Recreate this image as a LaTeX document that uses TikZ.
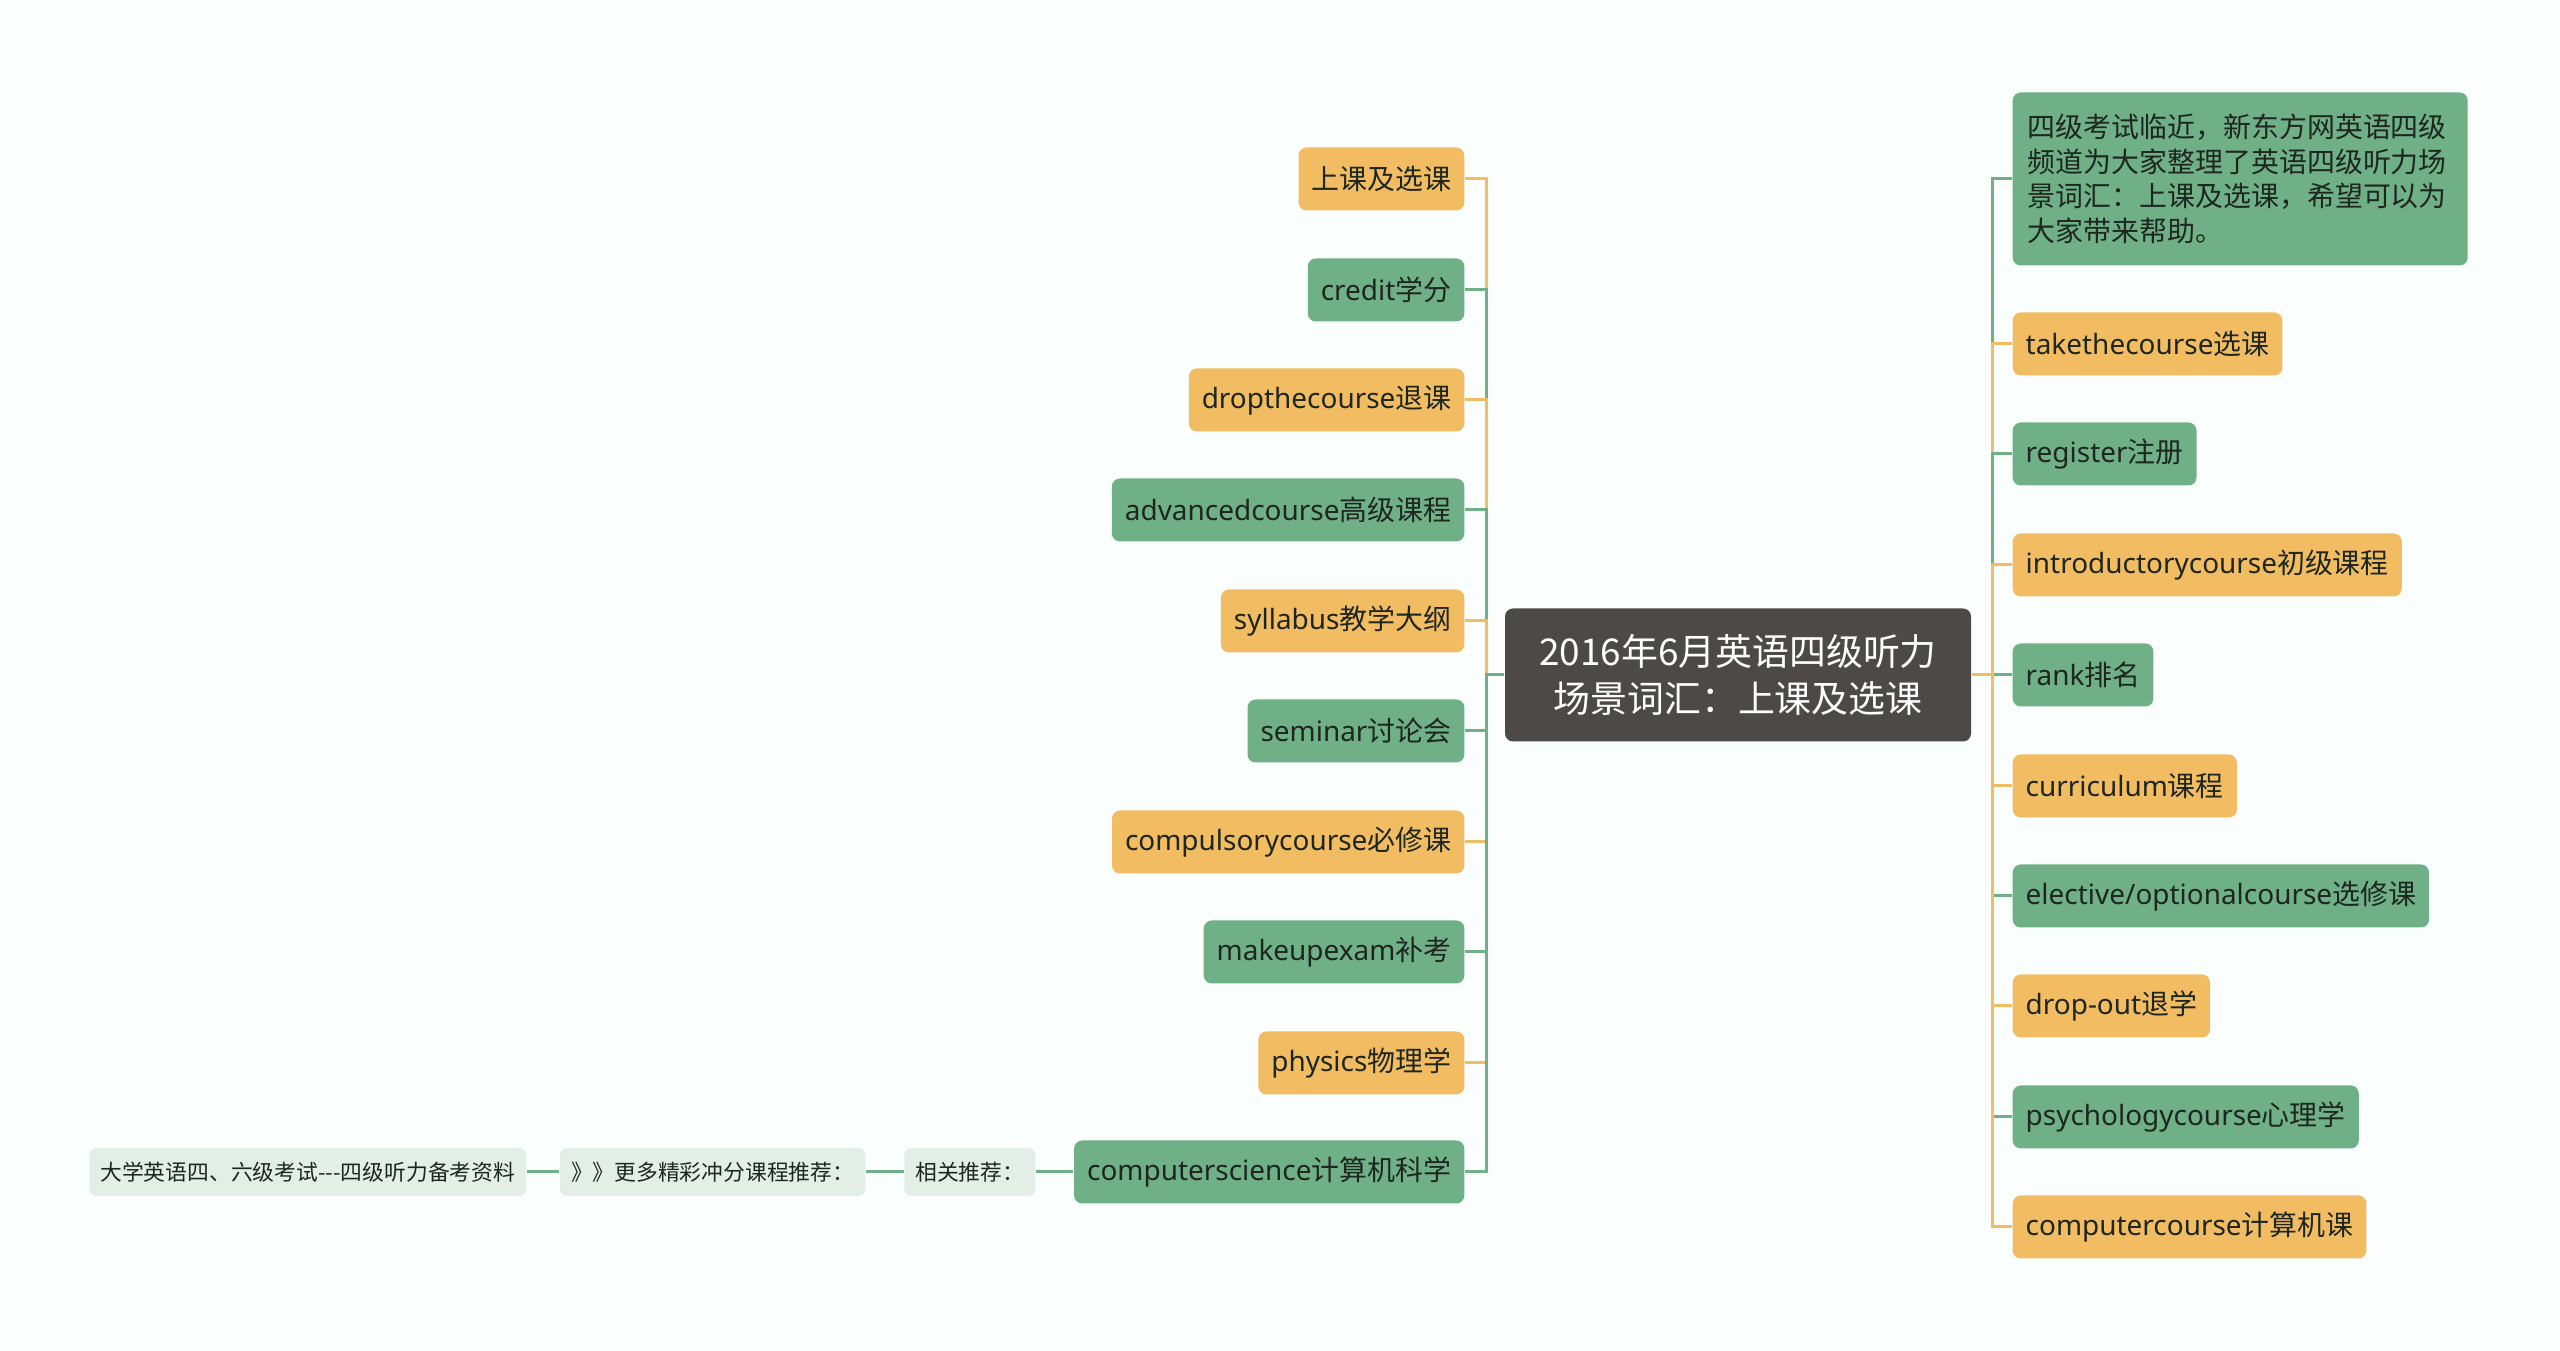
\documentclass[tikz,border=0pt]{standalone}
\usepackage{fontspec}
\setmainfont{Noto Sans}
\newfontfamily\cjk{Noto Sans CJK SC}
\definecolor{bgmint}{RGB}{250,254,253}
\definecolor{leafgreen}{RGB}{111,176,135}
\definecolor{leaforange}{RGB}{242,188,99}
\definecolor{rootgrey}{RGB}{77,73,72}
\definecolor{tagmint}{RGB}{227,238,231}
\definecolor{inkdark}{RGB}{30,38,32}
\usetikzlibrary{positioning, calc}

\tikzset{
  leaf/.style={rounded corners=0.8mm, minimum height=6.3mm, inner xsep=1.3mm, inner ysep=0pt, text=inkdark, font=\fontsize{7.95pt}{9.5pt}\selectfont},
  greenleaf/.style={leaf, fill=leafgreen},
  orangeleaf/.style={leaf, fill=leaforange},
  rootnode/.style={rounded corners=0.8mm, fill=rootgrey, text=white, minimum width=46.6mm, minimum height=13.3mm, align=center, font=\fontsize{10.5pt}{13.4pt}\selectfont\cjk},
  tagnode/.style={rounded corners=0.7mm, fill=tagmint, minimum height=4.8mm, inner xsep=1.1mm, inner ysep=0pt, text=inkdark, font=\fontsize{6.2pt}{7.4pt}\selectfont\cjk},
  greenedge/.style={draw=leafgreen, line width=0.3mm},
  orangeedge/.style={draw=leaforange, line width=0.3mm},
  elbow/.style={rounded corners=1.1mm}
}

\begin{document}
\begin{tikzpicture}[x=0.1mm, y=-0.1mm]
  % canvas
  \fill[bgmint] (0,0) rectangle (2560,1351);
  \useasboundingbox (0,0) rectangle (2560,1351);

  % Root
  \node[rootnode] (root) at (1738, 675) {2016年6月英语四级听力\\场景词汇：上课及选课};
  \coordinate (ltrunk) at (1486, 675);
  \coordinate (rtrunk) at (1992, 675);

  % Left branch
  \node[orangeleaf, anchor=east] (l1) at (1465, 179) {\cjk 上课及选课};
  \node[greenleaf, anchor=east] (l2) at (1465, 290) {credit\cjk 学分};
  \node[orangeleaf, anchor=east] (l3) at (1465, 400) {dropthecourse\cjk 退课};
  \node[greenleaf, anchor=east] (l4) at (1465, 510) {advancedcourse\cjk 高级课程};
  \node[orangeleaf, anchor=east] (l5) at (1465, 621) {syllabus\cjk 教学大纲};
  \node[greenleaf, anchor=east] (l6) at (1465, 731) {seminar\cjk 讨论会};
  \node[orangeleaf, anchor=east] (l7) at (1465, 842) {compulsorycourse\cjk 必修课};
  \node[greenleaf, anchor=east] (l8) at (1465, 952) {makeupexam\cjk 补考};
  \node[orangeleaf, anchor=east] (l9) at (1465, 1063) {physics\cjk 物理学};
  \node[greenleaf, anchor=east] (l10) at (1465, 1172) {computerscience\cjk 计算机科学};

  % Related chain
  \node[tagnode, anchor=east] (rel1) at (1036, 1172) {相关推荐：};
  \node[tagnode, anchor=east] (rel2) at (866, 1172) {》》更多精彩冲分课程推荐：};
  \node[tagnode, anchor=east] (rel3) at (527, 1172) {大学英语四、六级考试-\kern0pt-\kern0pt-四级听力备考资料};

  % Right branch
  \node[greenleaf, anchor=west, text width=42.5mm, inner xsep=1.5mm, minimum height=17.3mm, align=left, font=\fontsize{7.95pt}{9.8pt}\selectfont\cjk] (r1) at (2012, 179)
    {四级考试临近，新东方网英语四级\\频道为大家整理了英语四级听力场\\景词汇：上课及选课，希望可以为\\大家带来帮助。};
  \node[orangeleaf, anchor=west] (r2) at (2012, 344) {takethecourse\cjk 选课};
  \node[greenleaf, anchor=west] (r3) at (2012, 454) {register\cjk 注册};
  \node[orangeleaf, anchor=west] (r4) at (2012, 565) {introductorycourse\cjk 初级课程};
  \node[greenleaf, anchor=west] (r5) at (2012, 675) {rank\cjk 排名};
  \node[orangeleaf, anchor=west] (r6) at (2012, 786) {curriculum\cjk 课程};
  \node[greenleaf, anchor=west] (r7) at (2012, 896) {elective/optionalcourse\cjk 选修课};
  \node[orangeleaf, anchor=west] (r8) at (2012, 1006) {drop-out\cjk 退学};
  \node[greenleaf, anchor=west] (r9) at (2012, 1117) {psychologycourse\cjk 心理学};
  \node[orangeleaf, anchor=west] (r10) at (2012, 1227) {computercourse\cjk 计算机课};

  % Left connectors
  \draw[orangeedge] (root.west) -- (ltrunk) -- (ltrunk |- l1.east) [elbow] -- (l1.east);
  \draw[greenedge] (root.west) -- (ltrunk) -- (ltrunk |- l2.east) [elbow] -- (l2.east);
  \draw[orangeedge] (root.west) -- (ltrunk) -- (ltrunk |- l3.east) [elbow] -- (l3.east);
  \draw[greenedge] (root.west) -- (ltrunk) -- (ltrunk |- l4.east) [elbow] -- (l4.east);
  \draw[orangeedge] (root.west) -- (ltrunk) -- (ltrunk |- l5.east) [elbow] -- (l5.east);
  \draw[greenedge] (root.west) -- (ltrunk) -- (ltrunk |- l6.east) [elbow] -- (l6.east);
  \draw[orangeedge] (root.west) -- (ltrunk) -- (ltrunk |- l7.east) [elbow] -- (l7.east);
  \draw[greenedge] (root.west) -- (ltrunk) -- (ltrunk |- l8.east) [elbow] -- (l8.east);
  \draw[orangeedge] (root.west) -- (ltrunk) -- (ltrunk |- l9.east) [elbow] -- (l9.east);
  \draw[greenedge] (root.west) -- (ltrunk) -- (ltrunk |- l10.east) [elbow] -- (l10.east);

  % Related chain connectors
  \draw[greenedge] (l10.west) -- (rel1.east);
  \draw[greenedge] (rel1.west) -- (rel2.east);
  \draw[greenedge] (rel2.west) -- (rel3.east);

  % Right connectors
  \draw[greenedge] (root.east) -- (rtrunk) -- (rtrunk |- r1.west) [elbow] -- (r1.west);
  \draw[orangeedge] (root.east) -- (rtrunk) -- (rtrunk |- r2.west) [elbow] -- (r2.west);
  \draw[greenedge] (root.east) -- (rtrunk) -- (rtrunk |- r3.west) [elbow] -- (r3.west);
  \draw[orangeedge] (root.east) -- (rtrunk) -- (rtrunk |- r4.west) [elbow] -- (r4.west);
  \draw[greenedge] (root.east) -- (r5.west);
  \draw[orangeedge] (root.east) -- (rtrunk) -- (rtrunk |- r6.west) [elbow] -- (r6.west);
  \draw[greenedge] (root.east) -- (rtrunk) -- (rtrunk |- r7.west) [elbow] -- (r7.west);
  \draw[orangeedge] (root.east) -- (rtrunk) -- (rtrunk |- r8.west) [elbow] -- (r8.west);
  \draw[greenedge] (root.east) -- (rtrunk) -- (rtrunk |- r9.west) [elbow] -- (r9.west);
  \draw[orangeedge] (root.east) -- (rtrunk) -- (rtrunk |- r10.west) [elbow] -- (r10.west);
\end{tikzpicture}
\end{document}
